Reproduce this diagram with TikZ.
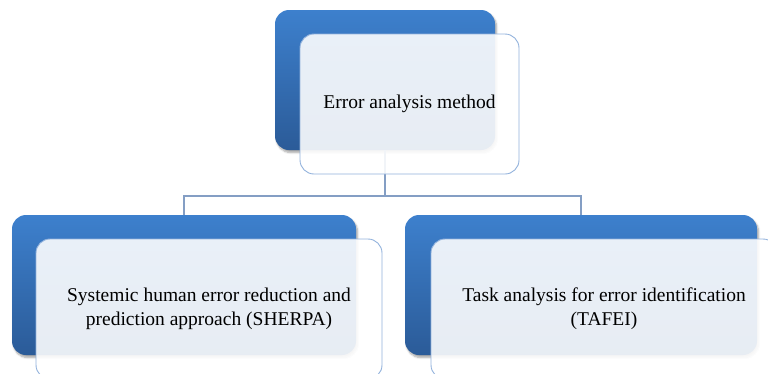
\documentclass[tikz,border=0pt]{standalone}
\usepackage{fontspec}
\setmainfont{Liberation Serif}
\usetikzlibrary{shadows.blur}
\definecolor{backtop}{RGB}{61,128,205}
\definecolor{backbot}{RGB}{43,91,152}
\definecolor{frontline}{RGB}{146,178,220}
\definecolor{conncol}{RGB}{132,158,196}
\tikzset{
  backbox/.style={rounded corners=14pt, top color=backtop, bottom color=backbot,
    draw=none, inner sep=0pt,
    blur shadow={shadow xshift=1.5pt, shadow yshift=-2.5pt, shadow blur steps=6, shadow opacity=35}},
  frontbox/.style={rounded corners=14pt, fill=white, fill opacity=0.89, text opacity=1,
    draw=frontline, line width=0.9pt, inner sep=0pt, align=center,
    font=\fontsize{19.5}{24}\selectfont},
  conn/.style={draw=conncol, line width=1.2pt}
}
\begin{document}
\begin{tikzpicture}[x=1pt, y=-1pt]
  \useasboundingbox (0,0) rectangle (768,373);
  \clip (0,0) rectangle (768,373);
  % rear coloured panels
  \node[backbox, minimum width=220pt, minimum height=140pt] (topB) at (385,80) {};
  \node[backbox, minimum width=344pt, minimum height=140pt] (leftB) at (184,285) {};
  \node[backbox, minimum width=352pt, minimum height=140pt] (rightB) at (581,285) {};
  % tree connectors
  \coordinate (bus) at (385,196);
  \draw[conn] (topB.south) -- (bus) -| (leftB.north);
  \draw[conn] (bus) -| (rightB.north);
  % front text panels
  \node[frontbox, minimum width=219pt, minimum height=140pt] (topF) at (409.5,104)
    {Error analysis method};
  \node[frontbox, minimum width=346pt, minimum height=140pt] (leftF) at (209,309)
    {Systemic human error reduction and\\prediction approach (SHERPA)};
  \node[frontbox, minimum width=346pt, minimum height=140pt] (rightF) at (604,309)
    {Task analysis for error identification\\(TAFEI)};
\end{tikzpicture}
\end{document}
